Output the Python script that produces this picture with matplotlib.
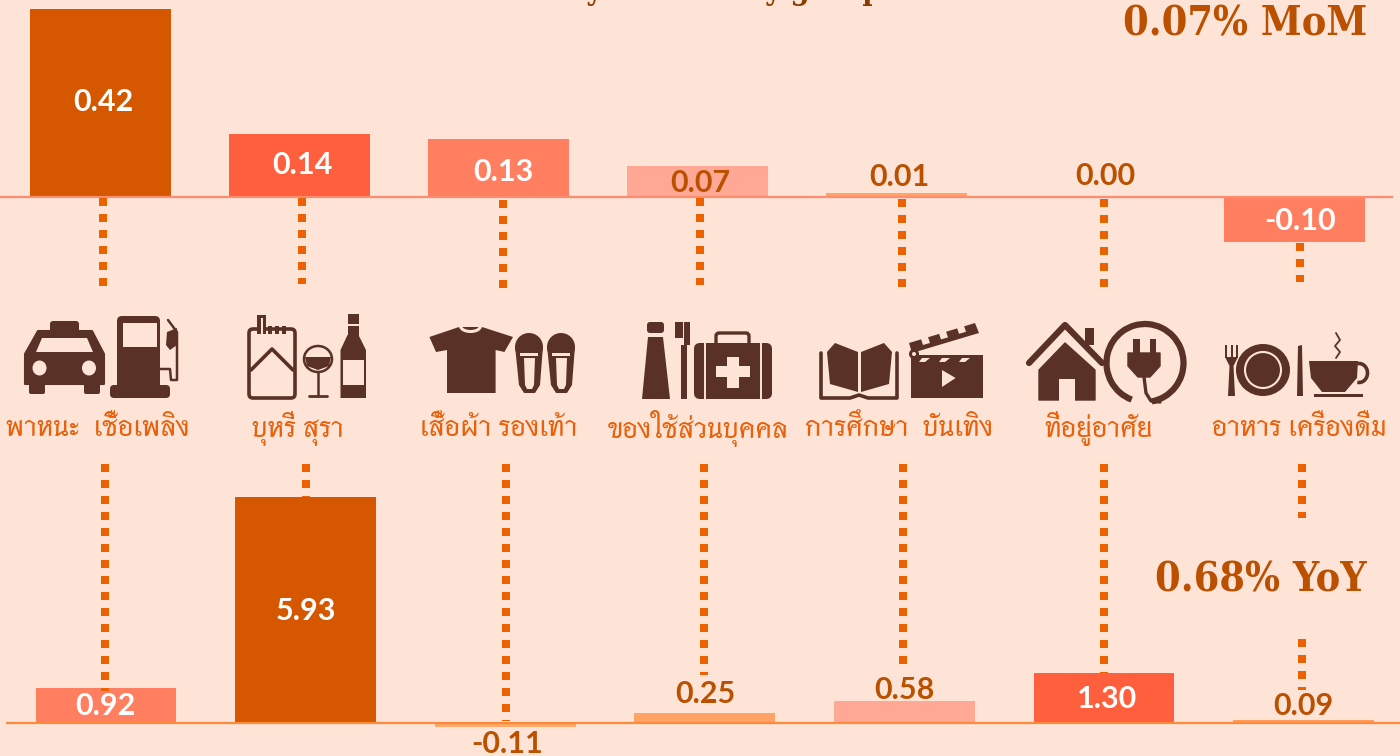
import matplotlib
matplotlib.use("Agg")
import matplotlib.pyplot as plt
import numpy as np
from matplotlib.patches import Arc, Circle, Ellipse, FancyBboxPatch, Polygon, Rectangle

W, H = 1400, 756
BG = "#FDE4D7"
ICON = "#593126"
DOT = "#EC6200"
TEXT_DARK = "#BA5000"
THAI = ["Thasadith", "Athiti", "DejaVu Sans"]
SLAB = ["DejaVu Serif"]
NUM = ["Lato", "DejaVu Sans"]

categories = ["พาหนะ  เชื้อเพลิง", "บุหรี่ สุรา", "เสื้อผ้า รองเท้า", "ของใช้ส่วนบุคคล",
              "การศึกษา  บันเทิง", "ที่อยู่อาศัย", "อาหาร เครื่องดื่ม"]
mom_values = [0.42, 0.14, 0.13, 0.07, 0.01, 0.00, -0.10]
yoy_values = [0.92, 5.93, -0.11, 0.25, 0.58, 1.30, 0.09]
mom_headline = "0.07% MoM"
yoy_headline = "0.68% YoY"
title = "Contribution by commodity group"

mom_colors = ["#D55800", "#FF5F3C", "#FF7F60", "#FFA896", "#FFA366", "#FFA366", "#FF7F60"]
yoy_colors = ["#FF7F60", "#D55800", "#FFA968", "#FFA366", "#FFA896", "#FF5F3C", "#FF9C5C"]
mom_text = ["white", "white", "white", TEXT_DARK, TEXT_DARK, TEXT_DARK, "white"]
yoy_text = ["white", "white", TEXT_DARK, TEXT_DARK, TEXT_DARK, "white", TEXT_DARK]

# label centres and connectors, in picture pixels
mom_label_xy = [(103, 102), (302, 165), (503, 172), (700, 183), (899, 177), (1105, 176), (1300, 221)]
yoy_label_xy = [(105, 706), (306, 611), (507, 744), (705, 694), (904, 690), (1107, 699), (1303, 706)]
label_x = [98, 298, 499, 698, 899, 1099, 1299]
connectors = [(103, 198, 288), (302, 198, 284), (503, 200, 288), (700, 198, 285), (902, 199, 287),
              (1104, 199, 287), (1300, 243, 282),
              (105, 464, 691), (306, 464, 497), (506, 464, 721), (704, 464, 675), (903, 464, 665),
              (1104, 464, 673), (1302, 464, 518), (1302, 639, 690)]

plt.rcParams["axes.unicode_minus"] = False
fig = plt.figure(figsize=(W / 100, H / 100), dpi=100, facecolor=BG)


def bar_axes(top_px, bottom_px, base_px, px_per_unit, x0, step):
    ax = fig.add_axes([0, 1 - bottom_px / H, 1, (bottom_px - top_px) / H])
    ax.set_xlim(-x0 / step, (W - x0) / step)
    ax.set_ylim((base_px - bottom_px) / px_per_unit, (base_px - top_px) / px_per_unit)
    ax.axis("off")
    return ax


ax_mom = bar_axes(0, 300, 197, 448, 100.5, 199)
ax_yoy = bar_axes(450, 756, 723, 38.1, 106, 199.6)
x = np.arange(len(categories))
ax_mom.bar(x, mom_values, 0.709, color=mom_colors)
ax_yoy.bar(x, yoy_values, 0.706, color=yoy_colors)
ax_mom.plot([-100.5 / 199, (1393 - 100.5) / 199], [0, 0], color="#FF8C6E", lw=1.6, solid_capstyle="butt")
ax_yoy.plot([(6 - 106) / 199.6, (W - 106) / 199.6], [0, 0], color="#FF8A3C", lw=1.6, solid_capstyle="butt")

# overlay in picture pixels for the icons, connectors and texts
ov = fig.add_axes([0, 0, 1, 1])
ov.set_xlim(0, W)
ov.set_ylim(H, 0)
ov.axis("off")
ov.patch.set_alpha(0)


def poly(pts, color=ICON, round_px=0.0):
    ov.add_patch(Polygon(pts, closed=True, fc=color, ec=color, lw=round_px, joinstyle="round"))


def rect(x0, y0, x1, y1, color=ICON):
    ov.add_patch(Rectangle((x0, y0), x1 - x0, y1 - y0, fc=color, ec="none"))


def rrect(x0, y0, x1, y1, r, color=ICON, fill=True, lw=0.0):
    ov.add_patch(FancyBboxPatch((x0 + r, y0 + r), x1 - x0 - 2 * r, y1 - y0 - 2 * r,
                                boxstyle=f"round,pad={r}", fc=color if fill else "none",
                                ec=color if not fill else "none", lw=lw))


def line(xs, ys, lw=2.0, color=ICON, cap="round"):
    ov.plot(xs, ys, color=color, lw=lw, solid_capstyle=cap, solid_joinstyle="round")


def ell(cx, cy, rx, ry, color=ICON):
    ov.add_patch(Ellipse((cx, cy), 2 * rx, 2 * ry, fc=color, ec="none"))


def taxi():
    rrect(50, 321, 79, 334, 3)
    poly([(38, 331), (92, 331), (104, 354), (104, 384), (25, 384), (25, 354)], round_px=1.5)
    poly([(42, 338), (87, 338), (93, 352), (36, 352)], BG)
    ell(39.5, 368, 7, 7.5, BG)
    ell(89, 368, 7, 7.5, BG)
    rrect(29, 380, 45, 394, 2)
    rrect(84, 380, 100, 394, 2)


def pump():
    rrect(117, 316, 160, 392, 5)
    rect(123, 323, 157, 347, BG)
    rrect(110, 385, 170, 398, 4)
    line([160, 170, 171, 177, 177, 168], [369, 369, 380, 380, 332, 320], lw=1.8)
    poly([(167, 332), (177, 328), (177, 345), (170, 350), (166, 345)])


def cigarettes_wine():
    rrect(249, 329, 295, 398, 4, fill=False, lw=2.6)
    line([251, 272, 293], [370, 349, 370], lw=2.6)
    rect(257, 315, 266, 334)
    rect(260.5, 318, 263, 334, BG)
    for bx in (268, 275, 282):
        rect(bx, 326, bx + 4, 334)
    ov.add_patch(Arc((318, 359), 28, 26, theta1=0, theta2=360, ec=ICON, lw=1.8))
    poly([(305, 357), (331, 357), (329, 366), (318, 370), (307, 366)])
    line([318, 318], [372, 396], lw=1.8)
    line([309, 327], [396, 396], lw=2)
    # bottle
    rect(347.5, 314, 358.5, 324)
    rect(347.5, 326, 358.5, 336)
    poly([(347.5, 335), (358.5, 335), (366, 350), (366, 398), (340.5, 398), (340.5, 350)])
    rect(342.5, 360, 363.5, 385, BG)


def shirt_slippers():
    poly([(429.4, 337), (459, 327), (482, 327), (513, 337), (504.4, 352), (495.6, 350), (495.6, 393),
          (447, 393), (447, 350), (436, 352)])
    ov.add_patch(Arc((470.5, 326), 20, 11, theta1=0, theta2=180, ec=BG, lw=2.2))
    for sx in (515, 547):
        poly([(sx + 0, 346), (sx + 28, 346), (sx + 25, 385), (sx + 20, 393), (sx + 9, 393), (sx + 4, 385)])
        ell(sx + 14, 347, 14, 14)
        rect(sx + 5, 353, sx + 23, 356, BG)
        poly([(sx + 9, 358), (sx + 20, 358), (sx + 19, 385), (sx + 17, 389), (sx + 12, 389), (sx + 10, 385)], BG)


def toiletries_kit():
    rrect(647, 322, 664, 333, 3)
    poly([(648, 337), (663, 337), (670, 399), (642, 399)])
    rect(680.6, 345, 686.7, 399)
    rect(684, 322, 690, 345)
    rect(675, 322, 683, 338)
    rrect(716, 333, 749, 350, 3, fill=False, lw=2.4)
    rrect(694, 343, 772, 399, 6)
    line([705, 705], [343, 399], lw=1.4, color=BG, cap="butt")
    line([761, 761], [343, 399], lw=1.4, color=BG, cap="butt")
    rect(716, 366, 750, 377, BG)
    rect(726.5, 357, 739, 388, BG)


def book_clapper():
    poly([(827, 352), (835, 343), (858, 352), (858, 392), (830, 384)])
    poly([(861, 352), (884, 343), (892, 352), (889, 384), (861, 392)])
    line([821, 821, 850, 859, 868, 897, 897], [353, 398, 398, 395, 398, 398, 353], lw=2.6)
    poly([(911, 355), (983, 355), (983, 398), (911, 398)])
    for k in range(3):
        poly([(922 + 20 * k, 358), (930 + 20 * k, 358), (925 + 20 * k, 362), (919 + 20 * k, 362)], BG)
    poly([(942, 370), (955.6, 378), (942, 387)], BG)
    poly([(909, 343), (975, 323), (979, 333), (912, 353)])
    for k in range(3):
        poly([(923 + 18 * k, 345 - 5.6 * k), (930 + 18 * k, 343 - 5.6 * k),
              (927 + 18 * k, 334 - 5.6 * k), (920 + 18 * k, 336 - 5.6 * k)], BG)
    ov.add_patch(Circle((914, 354), 5, fc=ICON, ec="none"))
    ov.add_patch(Circle((914, 354), 2, fc=BG, ec="none"))


def house_plug():
    line([1029, 1065, 1102], [363, 325, 363], lw=4.5)
    rect(1085, 328, 1094, 345)
    poly([(1065, 343), (1095, 370), (1095, 400), (1039, 400), (1039, 370)], round_px=1)
    rect(1059, 379, 1074.5, 401, BG)
    ov.add_patch(Arc((1145, 363), 77, 78, theta1=110, theta2=440, ec=ICON, lw=4.5))
    rect(1133, 339, 1140, 354)
    rect(1150, 339, 1156, 354)
    poly([(1128, 353), (1160, 353), (1160, 366), (1150, 377), (1138, 377), (1128, 366)], round_px=1)
    line([1144, 1146, 1151, 1160], [377, 393, 401, 402], lw=2.4)


def meal():
    rect(1225, 345, 1227, 358)
    rect(1230.5, 345, 1232.5, 358)
    rect(1236, 345, 1238, 358)
    poly([(1225, 357), (1238, 357), (1233.5, 366), (1235, 396), (1228, 396), (1229.5, 366)])
    ell(1263, 370, 27, 26)
    ov.add_patch(Ellipse((1263, 370), 36, 36, fc="none", ec=BG, lw=1.5))
    poly([(1298, 346), (1302, 345), (1303, 396), (1297, 396)])
    poly([(1309, 361), (1358, 361), (1357, 378), (1345, 392), (1322, 392), (1311, 378)])
    ov.add_patch(Arc((1359, 373), 17, 19, theta1=-100, theta2=100, ec=ICON, lw=2.6))
    rect(1314, 394, 1363, 397)
    line([1336, 1340, 1335, 1340, 1336], [333, 340, 346, 352, 358], lw=1.3)


taxi()
pump()
cigarettes_wine()
shirt_slippers()
toiletries_kit()
book_clapper()
house_plug()
meal()

for cx, y0, y1 in connectors:
    ov.plot([cx, cx], [y0, y1], color=DOT, lw=8 * 0.72, dashes=(1, 1), dash_capstyle="butt")

for name, lx in zip(categories, label_x):
    ov.text(lx, 429, name, family=THAI, fontweight="bold", fontsize=20.5, color="#E8600A", ha="center", va="center")

for val, (lx, ly), col in zip(mom_values, mom_label_xy, mom_text):
    ov.text(lx, ly, f"{val:.2f}", family=NUM, fontweight="bold", fontsize=22, color=col, ha="center", va="center")
for val, (lx, ly), col in zip(yoy_values, yoy_label_xy, yoy_text):
    ov.text(lx, ly, f"{val:.2f}", family=NUM, fontweight="bold", fontsize=22, color=col, ha="center", va="center")

ov.text(1367, 36, mom_headline, family=SLAB, stretch="condensed", fontweight="bold", fontsize=29.5, color=TEXT_DARK, ha="right", va="baseline")
ov.text(1367, 592, yoy_headline, family=SLAB, stretch="condensed", fontweight="bold", fontsize=29.5, color=TEXT_DARK, ha="right", va="baseline")
ov.text(360, -1, title, family=SLAB, stretch="condensed", fontweight="bold", fontsize=22, color="#8A3D00", ha="left", va="baseline")

fig.savefig("out.png", dpi=100, facecolor=BG)
